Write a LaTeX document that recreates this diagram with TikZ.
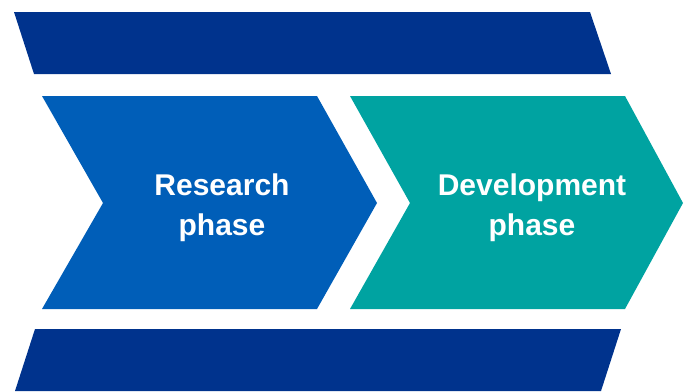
\documentclass[tikz,border=0pt]{standalone}
\usepackage{fontspec}
\setmainfont{Liberation Sans}
\definecolor{navy}{HTML}{00338D}
\definecolor{midblue}{HTML}{005EB8}
\definecolor{teal}{HTML}{00A3A1}
\begin{document}
\begin{tikzpicture}[x=1pt,y=-1pt,
  bar/.style={fill=navy},
  chev/.style={draw=none},
  label/.style={text=white,font=\fontsize{30}{40}\selectfont\bfseries,align=center,inner sep=0pt}]
\useasboundingbox (0,0) rectangle (690,391);
% top bar
\fill[bar] (14,12) -- (590,12) -- (611,74) -- (34,74) -- cycle;
% bottom bar
\fill[bar] (35,329) -- (621,329) -- (601,391) -- (15,391) -- cycle;
% research chevron
\fill[midblue] (42,96) -- (317,96) -- (377,203) -- (317,309) -- (42,309) -- (103,203) -- cycle;
% development chevron
\fill[teal] (350,96) -- (625,96) -- (683,203) -- (625,309) -- (350,309) -- (410,203) -- cycle;
\node[label] (res) at (222,207.4) {Research\\phase};
\node[label] (dev) at (532,207.4) {Development\\phase};
\end{tikzpicture}
\end{document}
